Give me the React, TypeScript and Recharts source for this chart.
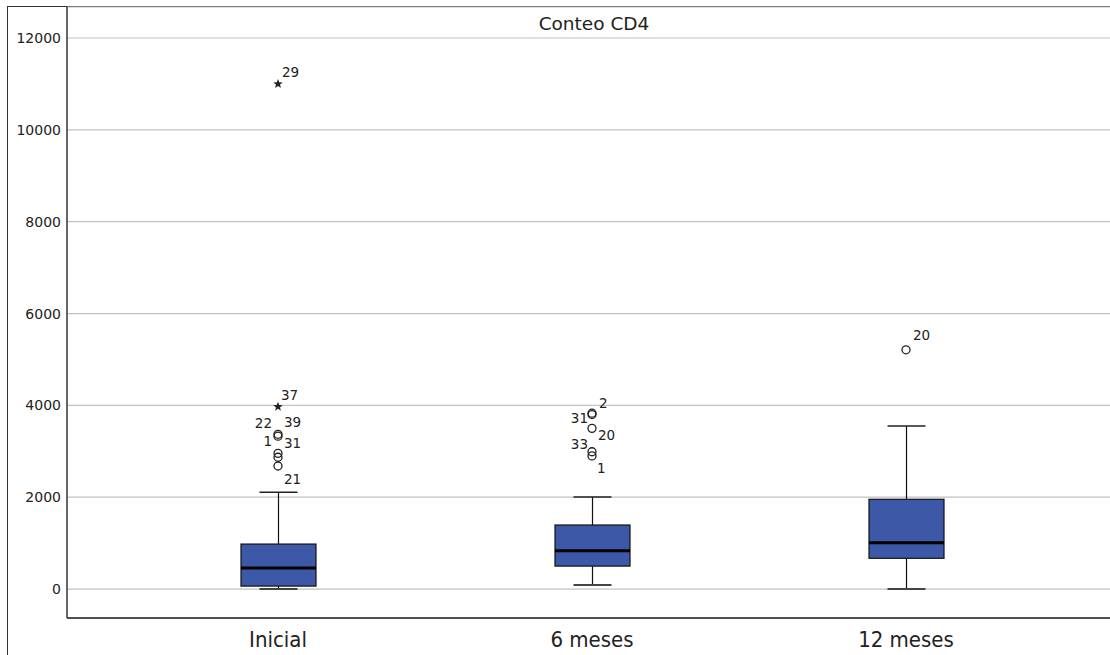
import { Bar, CartesianGrid, ComposedChart, Scatter, XAxis, YAxis } from "recharts";

// box plot summary per group
const categories = ["Inicial", "6 meses", "12 meses"];
const minValues = [0, 90, 0];
const q1Values = [65, 500, 670];
const medianValues = [460, 835, 1010];
const q3Values = [980, 1395, 1955];
const maxValues = [2110, 2005, 3550];

// outliers: o = circle, * = extreme
const outlierGroups = [
  "Inicial", "Inicial", "Inicial", "Inicial", "Inicial", "Inicial", "Inicial", "Inicial",
  "6 meses", "6 meses", "6 meses", "6 meses", "6 meses",
  "12 meses"
];
const outlierIds = ["29", "37", "22", "39", "1", "31", "21", "x", "2", "31", "20", "33", "1", "20"];
const outlierValues = [11000, 3970, 3370, 3330, 2955, 2870, 2680, 2920, 3830, 3800, 3500, 2990, 2900, 5210];
const outlierKinds = ["*", "*", "o", "o", "o", "o", "o", "o", "o", "o", "o", "o", "o", "o"];

const yTicks = [0, 2000, 4000, 6000, 8000, 10000, 12000];

// where SPSS put each case label, relative to its marker
const labelOffsets: Record<string, { dx: number; dy: number; anchor: string }> = {
  "Inicial-29": { dx: 4, dy: -7, anchor: "start" },
  "Inicial-37": { dx: 3, dy: -7, anchor: "start" },
  "Inicial-22": { dx: -6, dy: -6, anchor: "end" },
  "Inicial-39": { dx: 6, dy: -9, anchor: "start" },
  "Inicial-1": { dx: -6, dy: -7, anchor: "end" },
  "Inicial-31": { dx: 6, dy: -9, anchor: "start" },
  "Inicial-21": { dx: 6, dy: 18, anchor: "start" },
  "6 meses-2": { dx: 7, dy: -5, anchor: "start" },
  "6 meses-31": { dx: -4, dy: 8, anchor: "end" },
  "6 meses-20": { dx: 6, dy: 12, anchor: "start" },
  "6 meses-33": { dx: -4, dy: -3, anchor: "end" },
  "6 meses-1": { dx: 5, dy: 17, anchor: "start" },
  "12 meses-20": { dx: 7, dy: -10, anchor: "start" }
};

const boxData = categories.map((name, i) => ({
  name,
  min: minValues[i],
  q1: q1Values[i],
  median: medianValues[i],
  q3: q3Values[i],
  max: maxValues[i],
  box: [q1Values[i], q3Values[i]]
}));

const outlierData = outlierIds
  .map((id, i) => ({
    name: outlierGroups[i],
    id,
    value: outlierValues[i],
    kind: outlierKinds[i]
  }))
  .filter((d) => d.id !== "x");

const BOX_FILL = "#3d58a6";
const CAP_HALF = 19;

function BoxShape(props: any) {
  const { x, y, width, height, payload } = props;
  if (x == null || y == null) return null;
  const top = Math.min(y, y + height);
  const h = Math.abs(height);
  const k = h / (payload.q3 - payload.q1);
  const yOf = (v: number) => top + (payload.q3 - v) * k;
  const cx = x + width / 2;
  const yMax = yOf(payload.max);
  const yMin = yOf(payload.min);
  const yMed = yOf(payload.median);
  return (
    <g>
      <line x1={cx} x2={cx} y1={yMax} y2={top} stroke="#111" strokeWidth={1.2} />
      <line x1={cx} x2={cx} y1={top + h} y2={yMin} stroke="#111" strokeWidth={1.2} />
      <line x1={cx - CAP_HALF} x2={cx + CAP_HALF} y1={yMax} y2={yMax} stroke="#222" strokeWidth={1.5} />
      <line x1={cx - CAP_HALF} x2={cx + CAP_HALF} y1={yMin} y2={yMin} stroke="#444" strokeWidth={2} />
      <rect x={x} y={top} width={width} height={h} fill={BOX_FILL} stroke="#111" strokeWidth={1.2} />
      <line x1={x} x2={x + width} y1={yMed} y2={yMed} stroke="#000" strokeWidth={3} />
    </g>
  );
}

function starPoints(cx: number, cy: number, r: number) {
  const pts: string[] = [];
  for (let i = 0; i < 10; i++) {
    const rad = i % 2 === 0 ? r : r * 0.42;
    const a = -Math.PI / 2 + (i * Math.PI) / 5;
    pts.push(`${cx + rad * Math.cos(a)},${cy + rad * Math.sin(a)}`);
  }
  return pts.join(" ");
}

function OutlierShape(props: any) {
  const { cx, cy, payload } = props;
  if (cx == null || cy == null) return null;
  const pos = labelOffsets[`${payload.name}-${payload.id}`] ?? { dx: 6, dy: -6, anchor: "start" };
  return (
    <g>
      {payload.kind === "*" ? (
        <polygon points={starPoints(cx, cy, 5)} fill="#222" />
      ) : (
        <circle cx={cx} cy={cy} r={4} fill="none" stroke="#222" strokeWidth={1.3} />
      )}
      <text
        x={cx + pos.dx}
        y={cy + pos.dy}
        textAnchor={pos.anchor as any}
        fontSize={13.5}
        fontFamily="DejaVu Sans"
        fill="#222"
      >
        {payload.id}
      </text>
    </g>
  );
}

export default function App() {
  return (
    <div style={{ position: "absolute", left: 0, top: 0, width: 1110, height: 655, background: "#fff" }}>
      <div
        style={{
          position: "absolute",
          left: 7,
          top: 6,
          width: 1103,
          height: 649,
          borderLeft: "1.5px solid #333",
          borderTop: "1.5px solid #333",
          boxSizing: "border-box"
        }}
      />
      <div
        style={{
          position: "absolute",
          left: 0,
          width: 1188,
          top: 13,
          textAlign: "center",
          fontFamily: "DejaVu Sans",
          fontSize: 18.5,
          color: "#222"
        }}
      >
        Conteo CD4
      </div>
      <div style={{ position: "absolute", left: 0, top: 0 }}>
        <ComposedChart
          width={1110}
          height={655}
          data={boxData}
          margin={{ top: 7, right: 0, left: 0, bottom: 0 }}
        >
          <CartesianGrid vertical={false} stroke="#c2c2c2" strokeWidth={1.2} />
          <XAxis
            dataKey="name"
            type="category"
            allowDuplicatedCategory={false}
            height={37}
            padding={{ left: 54, right: 47 }}
            axisLine={{ stroke: "#222", strokeWidth: 1.5 }}
            tickLine={false}
            tick={{ fontSize: 22, fontFamily: "DejaVu Sans Condensed", fill: "#222" }}
            tickMargin={7}
          />
          <YAxis
            width={67}
            domain={[-630, 12675]}
            ticks={yTicks}
            interval={0}
            allowDataOverflow
            axisLine={{ stroke: "#333", strokeWidth: 1.5 }}
            tickLine={false}
            tickSize={0}
            tickMargin={6}
            tick={{ fontSize: 14, fontFamily: "DejaVu Sans", fill: "#222" }}
          />
          <Bar dataKey="box" barSize={75} shape={BoxShape} isAnimationActive={false} />
          <Scatter
            data={outlierData}
            dataKey="value"
            shape={OutlierShape}
            isAnimationActive={false}
          />
        </ComposedChart>
      </div>
    </div>
  );
}
